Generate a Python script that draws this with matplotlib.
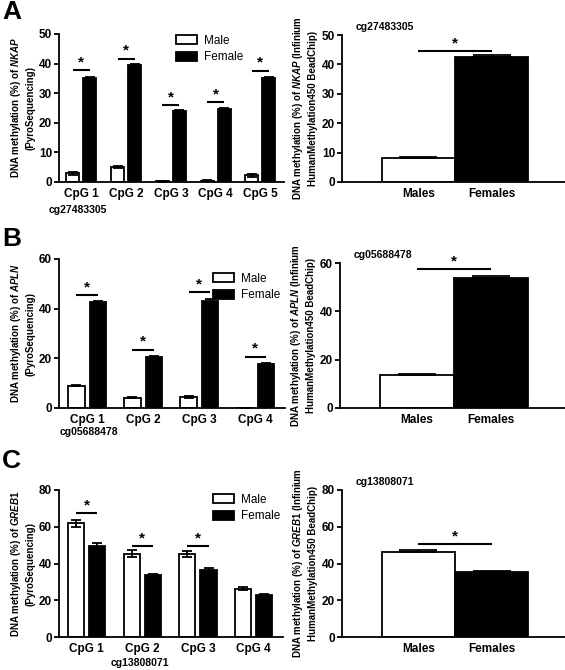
import numpy as np
import matplotlib
matplotlib.use("Agg")
import matplotlib.pyplot as plt
from matplotlib.patches import Patch

plt.rcParams["font.family"] = ["Liberation Sans", "DejaVu Sans"]
plt.rcParams["mathtext.fontset"] = "custom"
plt.rcParams["mathtext.it"] = "Liberation Sans:bold:italic"
plt.rcParams["mathtext.rm"] = "Liberation Sans:bold"

# ---- data ----
# A: NKAP
nkap_sites = ["CpG 1", "CpG 2", "CpG 3", "CpG 4", "CpG 5"]
nkap_male = [2.9, 5.0, 0.2, 0.5, 2.2]
nkap_male_err = [0.4, 0.4, 0.1, 0.2, 0.4]
nkap_female = [35.0, 39.4, 23.9, 24.6, 35.0]
nkap_female_err = [0.5, 0.4, 0.4, 0.4, 0.4]
nkap_sig = [37.7, 41.7, 26.0, 27.0, 37.6]
nkap_chip = [8.2, 42.6]
nkap_chip_err = [0.2, 0.6]
nkap_chip_sig = 44.6

# B: APLN
apln_sites = ["CpG 1", "CpG 2", "CpG 3", "CpG 4"]
apln_male = [9.0, 4.2, 4.3, 0.0]
apln_male_err = [0.3, 0.3, 0.4, 0.0]
apln_female = [42.5, 20.5, 43.2, 17.6]
apln_female_err = [0.6, 0.4, 0.5, 0.4]
apln_sig = [45.6, 23.5, 46.6, 20.7]
apln_chip = [13.5, 53.8]
apln_chip_err = [0.4, 0.8]
apln_chip_sig = 57.4

# C: GREB1
greb_sites = ["CpG 1", "CpG 2", "CpG 3", "CpG 4"]
greb_male = [61.8, 45.3, 45.1, 26.3]
greb_male_err = [1.8, 1.8, 1.5, 0.9]
greb_female = [49.6, 33.9, 36.6, 22.8]
greb_female_err = [1.8, 0.6, 0.8, 0.6]
greb_sig = [67.5, 49.5, 49.5, None]
greb_chip = [46.3, 35.3]
greb_chip_err = [1.1, 0.8]
greb_chip_sig = 50.5

sexes = ["Males", "Females"]

LW = 1.3
fig = plt.figure(figsize=(5.65, 6.7), dpi=100)


def rect(l, t, r, b):
    # pixel box (left, top, right, bottom) -> figure fractions
    return [l / 565, 1 - b / 670, (r - l) / 565, (b - t) / 670]


def style(ax, ymax, step):
    for s in ["top", "right"]:
        ax.spines[s].set_visible(False)
    for s in ["left", "bottom"]:
        ax.spines[s].set_linewidth(LW)
    ax.set_ylim(0, ymax)
    ax.set_yticks(np.arange(0, ymax + 1, step))
    ax.tick_params(axis="y", width=LW, length=3.5, pad=1.5, labelsize=8.5)
    ax.tick_params(axis="x", length=0, pad=4, labelsize=8.5)
    for t in ax.get_xticklabels() + ax.get_yticklabels():
        t.set_fontweight("bold")


def sig(ax, x0, x1, y, ymax):
    ax.plot([x0, x1], [y, y], color="black", lw=1.5, solid_capstyle="butt")
    ax.text((x0 + x1) / 2, y + ymax * 0.005, "*", ha="center", va="bottom",
            fontsize=11, fontweight="bold")


def grouped(ax, sites, male, male_err, female, female_err, sigs, ymax, step,
            gene, legend_xy):
    x = np.arange(len(sites))
    bw, off = 0.29, 0.19
    ax.bar(x - off, male, bw, color="white", edgecolor="black", lw=LW,
           yerr=male_err, error_kw=dict(lw=LW, capsize=3.5, capthick=LW),
           zorder=2)
    ax.bar(x + off, female, bw, color="black", edgecolor="black", lw=LW,
           yerr=female_err, error_kw=dict(lw=LW, capsize=3.5, capthick=LW),
           zorder=2)
    for i, s in enumerate(sigs):
        if s is not None:
            sig(ax, x[i] - off, x[i] + off, s, ymax)
    ax.set_xlim(-0.5, len(sites) - 0.47)
    ax.set_xticks(x)
    ax.set_xticklabels(sites)
    style(ax, ymax, step)
    ax.set_ylabel("DNA methylation (%) of $" + gene + "$\n(PyroSequencing)",
                  fontsize=7, fontweight="bold", labelpad=2.5, linespacing=1.3)
    ax.legend(handles=[Patch(facecolor="white", edgecolor="black", lw=LW, label="Male"),
                       Patch(facecolor="black", edgecolor="black", lw=LW, label="Female")],
              loc="upper left", bbox_to_anchor=legend_xy,
              bbox_transform=fig.transFigure, frameon=False, fontsize=8.5,
              handlelength=1.8, handleheight=0.8, handletextpad=0.6,
              labelspacing=0.35, borderpad=0, borderaxespad=0)


def chip(ax, vals, errs, sigy, ymax, step, gene, title):
    x = np.arange(2)
    ax.bar(x, vals, 1.0, color=["white", "black"], edgecolor="black", lw=LW,
           zorder=2)
    ax.errorbar(x, vals, yerr=[[0, 0], errs], fmt="none", ecolor="black",
                elinewidth=LW, capsize=14, capthick=LW, zorder=3)
    sig(ax, 0, 1, sigy, ymax)
    ax.set_xlim(-1.04, 2.0)
    ax.set_xticks(x)
    ax.set_xticklabels(sexes)
    style(ax, ymax, step)
    ax.set_ylabel("DNA methylation (%) of $" + gene + "$ (Infinium\n"
                  "HumanMethylation450 BeadChip)", fontsize=7,
                  fontweight="bold", labelpad=3, linespacing=1.3)
    ax.text(0.06, 1.02, title, transform=ax.transAxes, fontsize=7.5,
            fontweight="bold", va="bottom", ha="left")


# ---- panel A ----
axA1 = fig.add_axes(rect(59, 34, 284, 182))
grouped(axA1, nkap_sites, nkap_male, nkap_male_err, nkap_female, nkap_female_err,
        nkap_sig, 50, 10, "NKAP", (176 / 565, 1 - 35 / 670))
axA2 = fig.add_axes(rect(342, 35, 565, 182))
chip(axA2, nkap_chip, nkap_chip_err, nkap_chip_sig, 50, 10, "NKAP", "cg27483305")

# ---- panel B ----
axB1 = fig.add_axes(rect(59, 259, 285, 408))
grouped(axB1, apln_sites, apln_male, apln_male_err, apln_female, apln_female_err,
        apln_sig, 60, 20, "APLN", (213 / 565, 1 - 273 / 670))
axB2 = fig.add_axes(rect(340, 263, 565, 408))
chip(axB2, apln_chip, apln_chip_err, apln_chip_sig, 60, 20, "APLN", "cg05688478")

# ---- panel C ----
axC1 = fig.add_axes(rect(59, 490, 283, 637))
grouped(axC1, greb_sites, greb_male, greb_male_err, greb_female, greb_female_err,
        greb_sig, 80, 20, "GREB1", (213 / 565, 1 - 494 / 670))
axC2 = fig.add_axes(rect(342, 490, 565, 637))
chip(axC2, greb_chip, greb_chip_err, greb_chip_sig, 80, 20, "GREB1", "cg13808071")

# probe ids under the pyrosequencing panels
fig.text(49 / 565, 1 - 210 / 670, "cg27483305", fontsize=7.5, fontweight="bold",
         va="center", ha="left")
fig.text(60 / 565, 1 - 432 / 670, "cg05688478", fontsize=7.5, fontweight="bold",
         va="center", ha="left")
fig.text(140 / 565, 1 - 663 / 670, "cg13808071", fontsize=7.5, fontweight="bold",
         va="center", ha="center")

# panel letters
for letter, y in [("A", 12), ("B", 239), ("C", 461)]:
    fig.text(2 / 565, 1 - y / 670, letter, fontsize=19, fontweight="bold",
             va="center", ha="left")

fig.savefig("out.png", dpi=100)
